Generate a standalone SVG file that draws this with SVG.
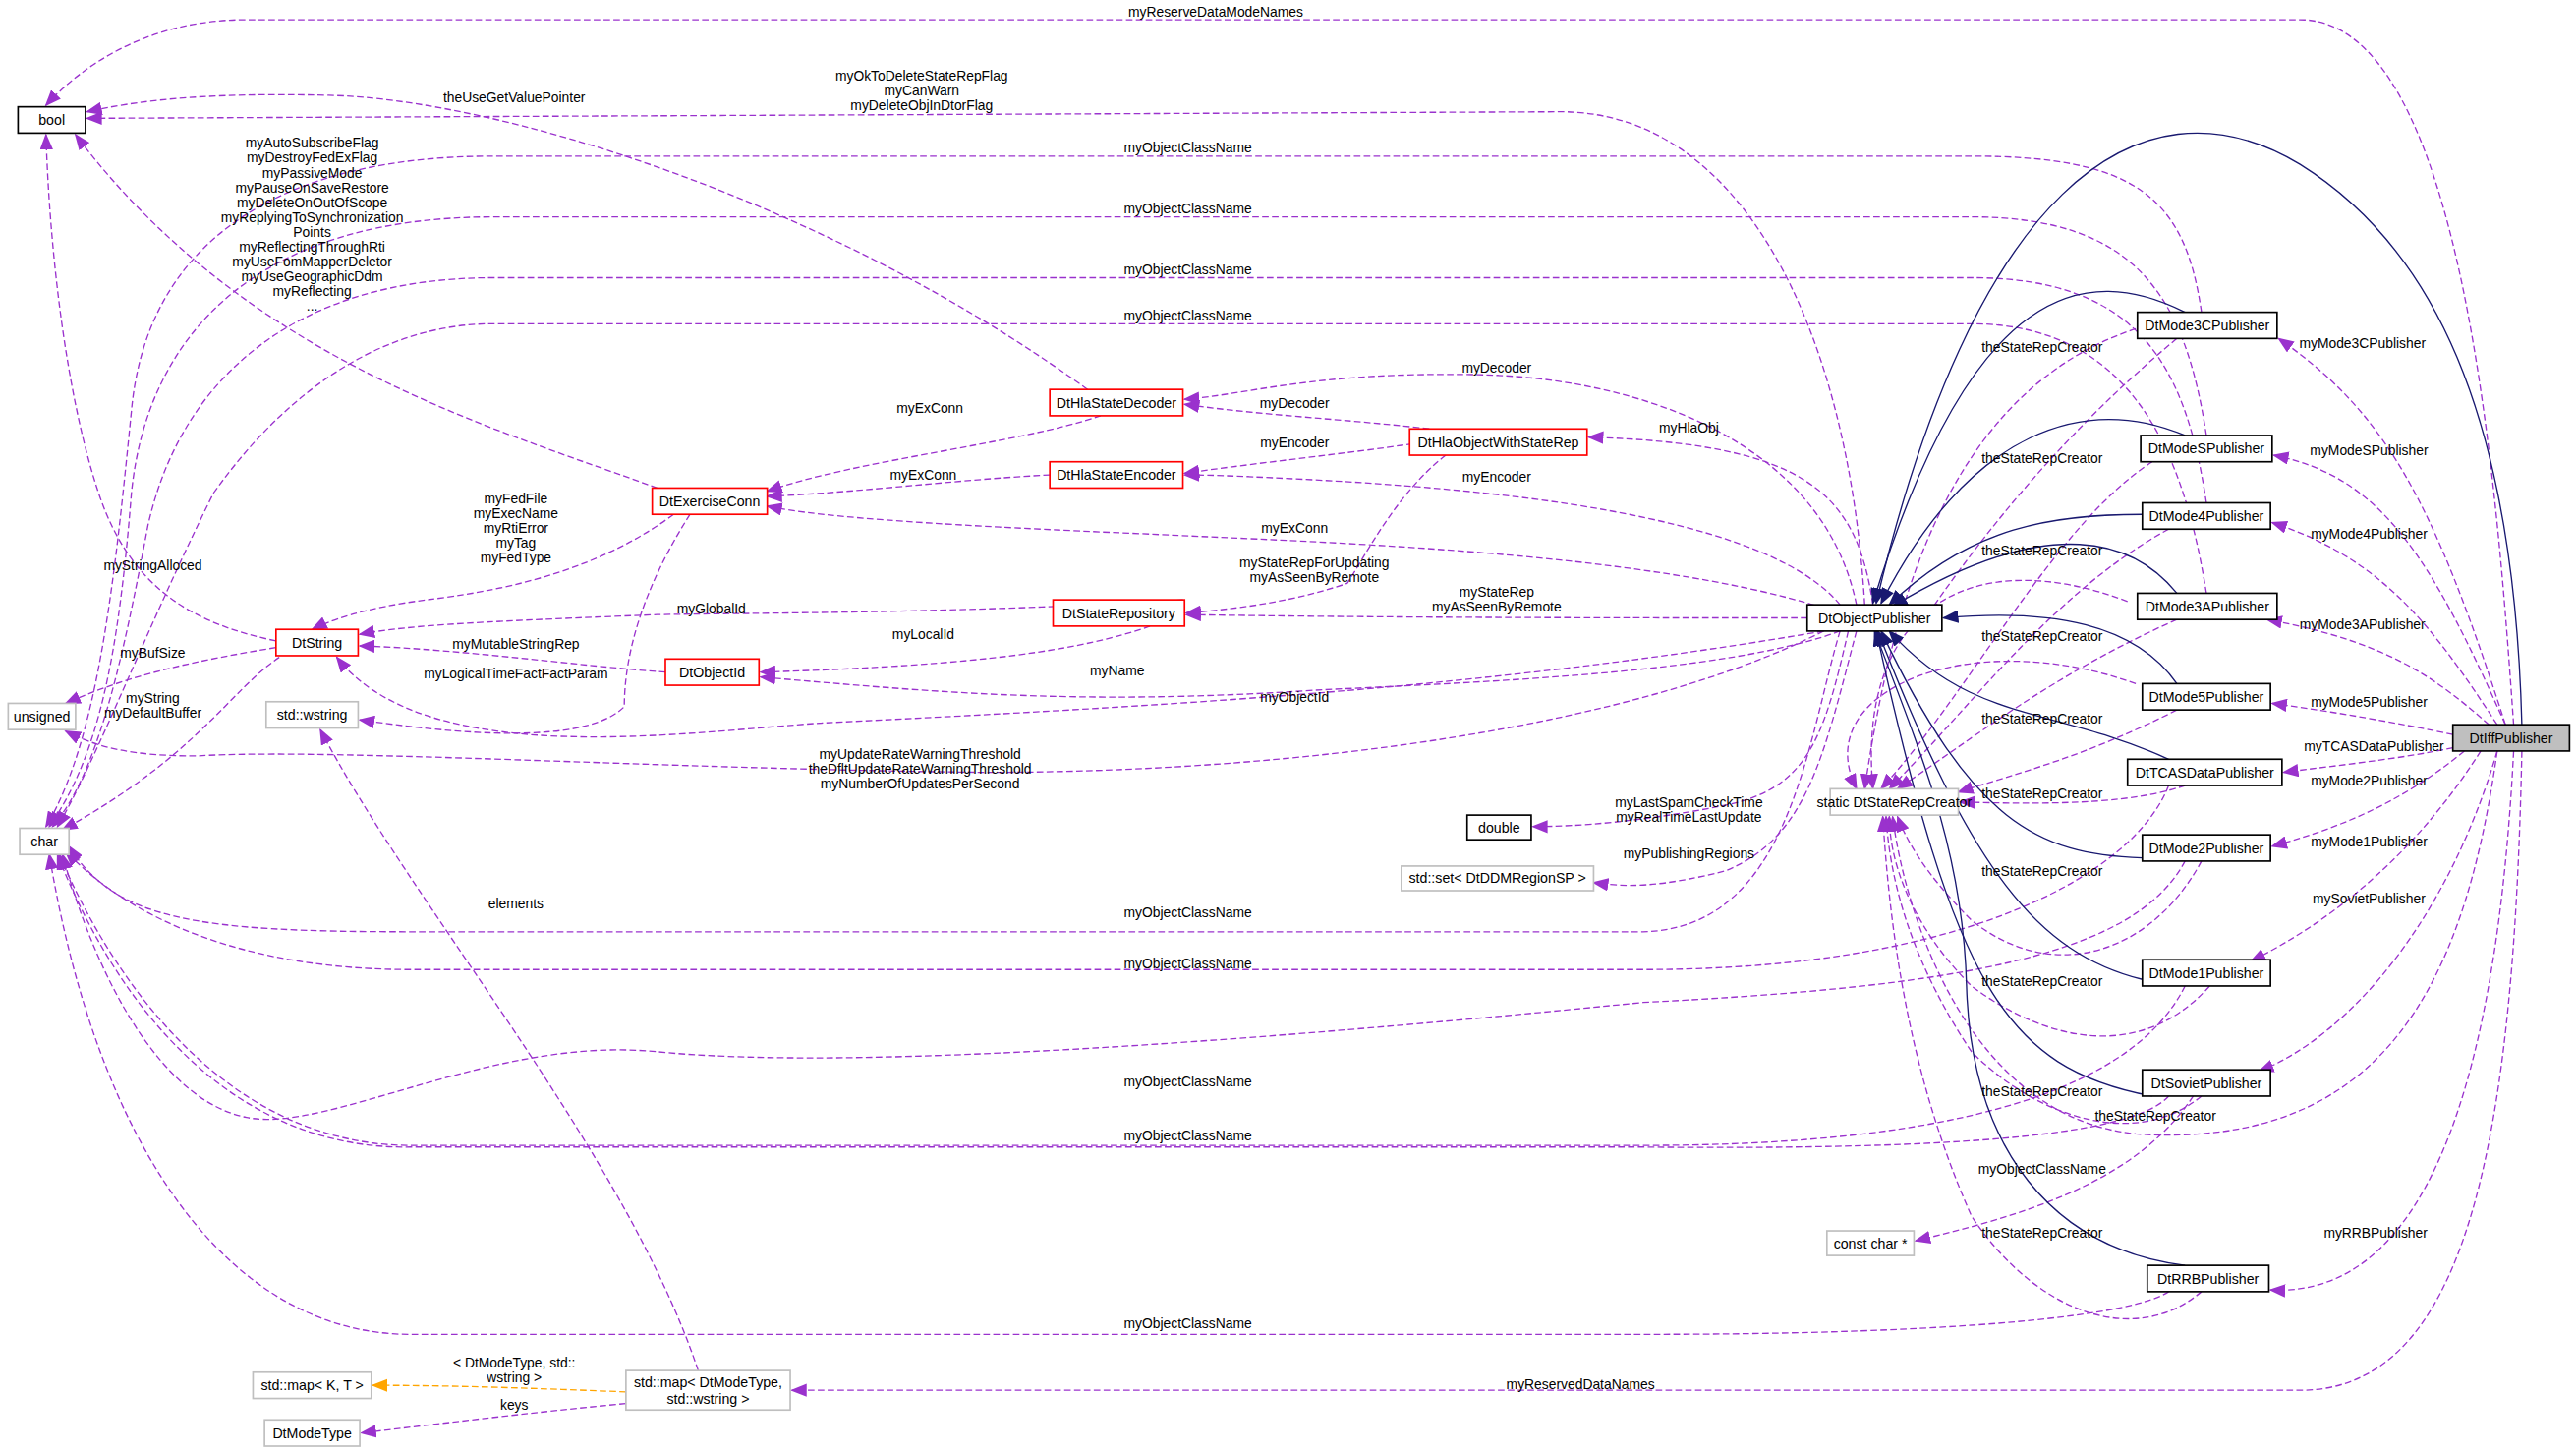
<svg xmlns="http://www.w3.org/2000/svg" width="2621" height="1479" viewBox="0 0 2621 1479">
<defs>
<marker id="ap" markerUnits="userSpaceOnUse" markerWidth="10" markerHeight="8" refX="9" refY="4" orient="auto"><path d="M0,0 L10,4 L0,8 z" fill="#9a32cd"/></marker>
<marker id="an" markerUnits="userSpaceOnUse" markerWidth="10" markerHeight="8" refX="9" refY="4" orient="auto"><path d="M0,0 L10,4 L0,8 z" fill="#191970"/></marker>
<marker id="ao" markerUnits="userSpaceOnUse" markerWidth="10" markerHeight="8" refX="9" refY="4" orient="auto"><path d="M0,0 L10,4 L0,8 z" fill="#ffa500"/></marker>
</defs>
<style>
text{font-family:"Liberation Sans",Arial,sans-serif;font-size:8.3px;fill:#000}
.n rect{fill:#fff;stroke:#000;stroke-width:1}
.g rect{stroke:#bfbfbf}
.r rect{stroke:#ff0000}
.n text{text-anchor:middle;dominant-baseline:central;font-size:8.5px}
.e path{fill:none}
.d{stroke:#9a32cd;stroke-width:0.8;stroke-dasharray:4,2;marker-end:url(#ap)}
.i{stroke:#191970;stroke-width:0.8;marker-end:url(#an)}
.o{stroke:#ffa500;stroke-width:0.8;stroke-dasharray:4,2;marker-end:url(#ao)}
.l text{text-anchor:middle}
</style>
<rect width="2621" height="1479" fill="#fff"/>
<g transform="scale(1.6716)">
<g id="edges" class="e">
<path class="d" d="M1530,441 C1520,300 1500,12 1400,12 L150,12 C90,12 50,40 28,64"/>
<path class="d" d="M1135,368 C1125,200 1060,68 950,68 L53,72"/>
<path class="d" d="M662,237 C500,120 300,60 200,58 C120,56 80,62 53,68"/>
<path class="d" d="M400,297 C300,260 150,220 46,82"/>
<path class="d" d="M1340,190 C1330,120 1300,95 1200,95 L300,95 C180,95 90,140 80,250 C70,350 60,450 28,503"/>
<path class="d" d="M1343,265 C1330,180 1300,132 1200,132 L300,132 C160,132 90,200 80,300 C72,400 60,460 30,503"/>
<path class="d" d="M1343,306 C1330,220 1300,169 1200,169 L300,169 C180,169 110,230 90,320 C75,400 60,470 32,503"/>
<path class="d" d="M1343,361 C1330,280 1300,197 1200,197 L300,197 C240,197 180,230 130,300 C90,380 60,460 35,503"/>
<path class="d" d="M1120,384 C1100,450 1090,565 1000,567 L250,567 C120,567 70,560 42,515"/>
<path class="d" d="M1320,478 C1300,530 1200,590 1000,590 L250,590 C150,590 80,560 40,518"/>
<path class="d" d="M1330,524 C1300,580 1200,600 1000,610 C700,640 500,650 400,640 C300,630 200,690 150,680 C100,670 60,600 38,520"/>
<path class="d" d="M1330,600 C1300,660 1200,697 1000,697 L250,697 C140,697 70,600 36,520"/>
<path class="d" d="M1320,667 C1300,690 1200,700 1000,698 L250,698 C140,700 70,610 35,520"/>
<path class="d" d="M1320,786 C1300,800 1200,812 1000,812 L250,812 C140,812 60,700 30,520"/>
<path class="d" d="M720,365 C600,373 450,373 400,374 C300,378 250,380 219,386"/>
<path class="d" d="M405,409 C350,405 280,395 219,393"/>
<path class="d" d="M700,381 C660,395 600,405 463,409"/>
<path class="d" d="M1120,384 C1050,410 900,415 800,420 C650,430 560,420 463,412"/>
<path class="d" d="M1110,384 C900,420 700,430 500,440 C420,445 260,470 205,400"/>
<path class="d" d="M410,313 C360,350 300,360 260,365 C220,370 200,378 190,383"/>
<path class="d" d="M420,313 C390,360 380,400 380,430 C360,450 300,450 219,438"/>
<path class="d" d="M168,390 C120,380 80,360 60,300 C40,240 30,150 28,82"/>
<path class="d" d="M168,394 C120,402 80,410 40,428"/>
<path class="d" d="M170,400 C140,420 120,460 38,505"/>
<path class="d" d="M670,253 C620,270 520,280 467,299"/>
<path class="d" d="M639,289 C580,292 520,300 467,302"/>
<path class="d" d="M1110,370 C1000,335 800,330 700,325 C580,320 500,315 467,308"/>
<path class="d" d="M870,261 C820,255 770,253 721,246"/>
<path class="d" d="M860,270 C820,276 770,281 721,288"/>
<path class="d" d="M880,277 C850,300 830,340 820,355 C790,365 760,370 722,373"/>
<path class="d" d="M1130,368 C1110,270 1000,230 900,228 C800,226 760,240 721,243"/>
<path class="d" d="M1120,368 C1080,320 950,300 800,292 C760,290 740,289 721,289"/>
<path class="d" d="M1140,368 C1130,300 1100,270 967,266"/>
<path class="d" d="M1100,376 C1000,376 850,376 722,374"/>
<path class="d" d="M1110,384 C1000,440 800,470 600,470 C400,468 200,455 120,460 C80,460 60,455 40,445"/>
<path class="d" d="M1125,384 C1110,450 1100,480 1050,490 C1000,500 960,503 933,503"/>
<path class="d" d="M1130,384 C1110,460 1100,510 1050,530 C1010,540 990,540 970,537"/>
<path class="d" d="M1325,206 C1260,260 1210,320 1170,379"/>
<path class="d" d="M1310,281 C1250,320 1200,420 1145,480"/>
<path class="d" d="M1320,322 C1250,360 1200,430 1150,480"/>
<path class="d" d="M1325,377 C1250,410 1200,450 1155,480"/>
<path class="d" d="M1325,432 C1270,460 1230,470 1192,482"/>
<path class="d" d="M1330,478 C1300,488 1260,490 1193,488"/>
<path class="d" d="M1340,524 C1310,580 1250,600 1200,560 C1170,530 1160,510 1155,497"/>
<path class="d" d="M1345,600 C1300,650 1240,630 1200,600 C1160,560 1150,520 1150,497"/>
<path class="d" d="M1340,667 C1300,700 1240,680 1200,640 C1160,580 1150,530 1148,497"/>
<path class="d" d="M1340,786 C1300,820 1240,800 1200,740 C1160,650 1150,560 1146,497"/>
<path class="d" d="M1520,457 C1500,600 1450,700 1300,690 C1200,680 1160,560 1152,497"/>
<path class="d" d="M1335,667 C1300,720 1230,740 1166,755"/>
<path class="d" d="M1295,366 C1200,330 1130,370 1140,480"/>
<path class="d" d="M1300,416 C1200,380 1100,420 1130,480"/>
<path class="d" d="M1300,200 C1180,240 1150,380 1135,480"/>
<path class="d" d="M1525,441 C1480,300 1450,250 1387,206"/>
<path class="d" d="M1525,441 C1480,340 1450,290 1384,277"/>
<path class="d" d="M1520,441 C1480,380 1450,340 1383,318"/>
<path class="d" d="M1515,441 C1480,410 1450,390 1380,377"/>
<path class="d" d="M1493,447 C1460,440 1420,433 1383,428"/>
<path class="d" d="M1493,455 C1460,462 1420,466 1390,470"/>
<path class="d" d="M1500,457 C1460,490 1420,505 1383,515"/>
<path class="d" d="M1510,457 C1470,520 1420,560 1370,585"/>
<path class="d" d="M1520,457 C1490,560 1430,630 1375,652"/>
<path class="d" d="M1530,457 C1520,650 1480,790 1382,785"/>
<path class="d" d="M1535,457 C1530,700 1500,846 1400,846 L482,846"/>
<path class="o" d="M381,847 C330,845 280,843 227,843"/>
<path class="d" d="M381,854 C320,860 270,866 220,872"/>
<path class="d" d="M425,834 C380,700 250,550 195,444"/>
<path class="i" d="M1535,441 C1530,250 1480,150 1400,100 C1300,40 1200,120 1142,367"/>
<path class="i" d="M1330,190 C1270,160 1200,170 1140,367"/>
<path class="i" d="M1330,265 C1270,240 1200,260 1145,367"/>
<path class="i" d="M1304,313 C1250,313 1200,320 1150,368"/>
<path class="i" d="M1325,361 C1300,330 1250,310 1152,369"/>
<path class="i" d="M1325,416 C1300,380 1250,370 1183,376"/>
<path class="i" d="M1320,462 C1250,430 1200,440 1150,384"/>
<path class="i" d="M1304,522 C1240,520 1200,500 1145,384"/>
<path class="i" d="M1304,596 C1240,580 1200,530 1143,384"/>
<path class="i" d="M1310,667 C1220,650 1190,600 1142,384"/>
<path class="i" d="M1330,770 C1250,760 1200,700 1197,600 C1195,520 1170,460 1141,384"/>
</g>
<g class="l">
<text x="740" y="10">myReserveDataModeNames</text>
<text x="561" y="49">myOkToDeleteStateRepFlag</text><text x="561" y="58">myCanWarn</text><text x="561" y="67">myDeleteObjInDtorFlag</text>
<text x="313" y="62">theUseGetValuePointer</text>
<text x="190" y="90">myAutoSubscribeFlag</text><text x="190" y="99">myDestroyFedExFlag</text><text x="190" y="108">myPassiveMode</text><text x="190" y="117">myPauseOnSaveRestore</text><text x="190" y="126">myDeleteOnOutOfScope</text><text x="190" y="135">myReplyingToSynchronization</text><text x="190" y="144">Points</text><text x="190" y="153">myReflectingThroughRti</text><text x="190" y="162">myUseFomMapperDeletor</text><text x="190" y="171">myUseGeographicDdm</text><text x="190" y="180">myReflecting</text><text x="190" y="189">...</text>
<text x="723" y="93">myObjectClassName</text><text x="723" y="130">myObjectClassName</text><text x="723" y="167">myObjectClassName</text><text x="723" y="195">myObjectClassName</text>
<text x="314" y="553">elements</text><text x="723" y="558">myObjectClassName</text><text x="723" y="589">myObjectClassName</text><text x="723" y="661">myObjectClassName</text><text x="723" y="694">myObjectClassName</text><text x="723" y="808">myObjectClassName</text>
<text x="314" y="306">myFedFile</text><text x="314" y="315">myExecName</text><text x="314" y="324">myRtiError</text><text x="314" y="333">myTag</text><text x="314" y="342">myFedType</text>
<text x="314" y="413">myLogicalTimeFactFactParam</text>
<text x="93" y="347">myStringAlloced</text><text x="93" y="400">myBufSize</text><text x="93" y="428">myString</text><text x="93" y="437">myDefaultBuffer</text>
<text x="433" y="373">myGlobalId</text><text x="314" y="395">myMutableStringRep</text><text x="562" y="389">myLocalId</text><text x="788" y="427">myObjectId</text><text x="680" y="411">myName</text>
<text x="566" y="251">myExConn</text><text x="562" y="292">myExConn</text><text x="788" y="324">myExConn</text>
<text x="788" y="248">myDecoder</text><text x="788" y="272">myEncoder</text><text x="800" y="345">myStateRepForUpdating</text><text x="800" y="354">myAsSeenByRemote</text>
<text x="911" y="227">myDecoder</text><text x="911" y="293">myEncoder</text><text x="1028" y="263">myHlaObj</text><text x="911" y="363">myStateRep</text><text x="911" y="372">myAsSeenByRemote</text>
<text x="560" y="462">myUpdateRateWarningThreshold</text><text x="560" y="471">theDfltUpdateRateWarningThreshold</text><text x="560" y="480">myNumberOfUpdatesPerSecond</text>
<text x="1028" y="491">myLastSpamCheckTime</text><text x="1028" y="500">myRealTimeLastUpdate</text><text x="1028" y="522">myPublishingRegions</text>
<text x="1243" y="214">theStateRepCreator</text><text x="1243" y="282">theStateRepCreator</text><text x="1243" y="338">theStateRepCreator</text><text x="1243" y="390">theStateRepCreator</text><text x="1243" y="440">theStateRepCreator</text><text x="1243" y="486">theStateRepCreator</text><text x="1243" y="533">theStateRepCreator</text><text x="1243" y="600">theStateRepCreator</text><text x="1243" y="667">theStateRepCreator</text><text x="1312" y="682">theStateRepCreator</text><text x="1243" y="753">theStateRepCreator</text>
<text x="1243" y="714">myObjectClassName</text>
<text x="1438" y="212">myMode3CPublisher</text><text x="1442" y="277">myModeSPublisher</text><text x="1442" y="328">myMode4Publisher</text><text x="1438" y="383">myMode3APublisher</text><text x="1442" y="430">myMode5Publisher</text><text x="1445" y="457">myTCASDataPublisher</text><text x="1442" y="478">myMode2Publisher</text><text x="1442" y="515">myMode1Publisher</text><text x="1442" y="550">mySovietPublisher</text><text x="1446" y="753">myRRBPublisher</text>
<text x="962" y="845">myReservedDataNames</text>
<text x="313" y="832">&lt; DtModeType, std::</text><text x="313" y="841">wstring &gt;</text><text x="313" y="858">keys</text>
</g>
<g id="n_bool" class="n"><rect x="11" y="65" width="41" height="16"/><text x="31.5" y="73">bool</text></g>
<g id="n_unsigned" class="n g"><rect x="5" y="428" width="41" height="16"/><text x="25.5" y="436">unsigned</text></g>
<g id="n_char" class="n g"><rect x="12" y="504" width="30" height="16"/><text x="27" y="512">char</text></g>
<g id="n_wstring" class="n g"><rect x="162" y="427" width="56" height="16"/><text x="190" y="435">std::wstring</text></g>
<g id="n_dtstring" class="n r"><rect x="168" y="383" width="50" height="16"/><text x="193" y="391">DtString</text></g>
<g id="n_exconn" class="n r"><rect x="397" y="297" width="70" height="16"/><text x="432" y="305">DtExerciseConn</text></g>
<g id="n_objid" class="n r"><rect x="405" y="401" width="57" height="16"/><text x="433.5" y="409">DtObjectId</text></g>
<g id="n_dec" class="n r"><rect x="639" y="237" width="81" height="16"/><text x="679.5" y="245">DtHlaStateDecoder</text></g>
<g id="n_enc" class="n r"><rect x="639" y="281" width="81" height="16"/><text x="679.5" y="289">DtHlaStateEncoder</text></g>
<g id="n_hlaobj" class="n r"><rect x="858" y="261" width="108" height="16"/><text x="912" y="269">DtHlaObjectWithStateRep</text></g>
<g id="n_repo" class="n r"><rect x="641" y="365" width="80" height="16"/><text x="681" y="373">DtStateRepository</text></g>
<g id="n_objpub" class="n"><rect x="1100" y="368" width="82" height="16"/><text x="1141" y="376">DtObjectPublisher</text></g>
<g id="n_double" class="n"><rect x="893" y="496" width="39" height="15"/><text x="912.5" y="503.5">double</text></g>
<g id="n_set" class="n g"><rect x="853" y="527" width="117" height="15"/><text x="911.5" y="534.5">std::set&lt; DtDDMRegionSP &gt;</text></g>
<g id="n_creator" class="n g"><rect x="1114" y="480" width="78" height="16"/><text x="1153" y="488">static DtStateRepCreator</text></g>
<g id="n_m3c" class="n"><rect x="1301" y="190" width="85" height="16"/><text x="1343.5" y="198">DtMode3CPublisher</text></g>
<g id="n_ms" class="n"><rect x="1303" y="265" width="80" height="16"/><text x="1343" y="273">DtModeSPublisher</text></g>
<g id="n_m4" class="n"><rect x="1304" y="306" width="78" height="16"/><text x="1343" y="314">DtMode4Publisher</text></g>
<g id="n_m3a" class="n"><rect x="1301" y="361" width="85" height="16"/><text x="1343.5" y="369">DtMode3APublisher</text></g>
<g id="n_m5" class="n"><rect x="1304" y="416" width="78" height="16"/><text x="1343" y="424">DtMode5Publisher</text></g>
<g id="n_tcas" class="n"><rect x="1295" y="462" width="94" height="16"/><text x="1342" y="470">DtTCASDataPublisher</text></g>
<g id="n_m2" class="n"><rect x="1304" y="508" width="78" height="16"/><text x="1343" y="516">DtMode2Publisher</text></g>
<g id="n_m1" class="n"><rect x="1304" y="584" width="78" height="16"/><text x="1343" y="592">DtMode1Publisher</text></g>
<g id="n_sov" class="n"><rect x="1304" y="651" width="78" height="16"/><text x="1343" y="659">DtSovietPublisher</text></g>
<g id="n_rrb" class="n"><rect x="1307" y="770" width="74" height="16"/><text x="1344" y="778">DtRRBPublisher</text></g>
<g id="n_iff" class="n"><rect x="1493" y="441" width="71" height="16" style="fill:#bfbfbf"/><text x="1528.5" y="449">DtIffPublisher</text></g>
<g id="n_cchar" class="n g"><rect x="1112" y="749" width="53" height="15"/><text x="1138.5" y="756.5">const char *</text></g>
<g id="n_mapkt" class="n g"><rect x="154" y="835" width="72" height="16"/><text x="190" y="843">std::map&lt; K, T &gt;</text></g>
<g id="n_map" class="n g"><rect x="381" y="834" width="100" height="24"/><text x="431" y="841">std::map&lt; DtModeType,</text><text x="431" y="851">std::wstring &gt;</text></g>
<g id="n_modetype" class="n g"><rect x="161" y="864" width="58" height="16"/><text x="190" y="872">DtModeType</text></g>
</g>
</svg>
